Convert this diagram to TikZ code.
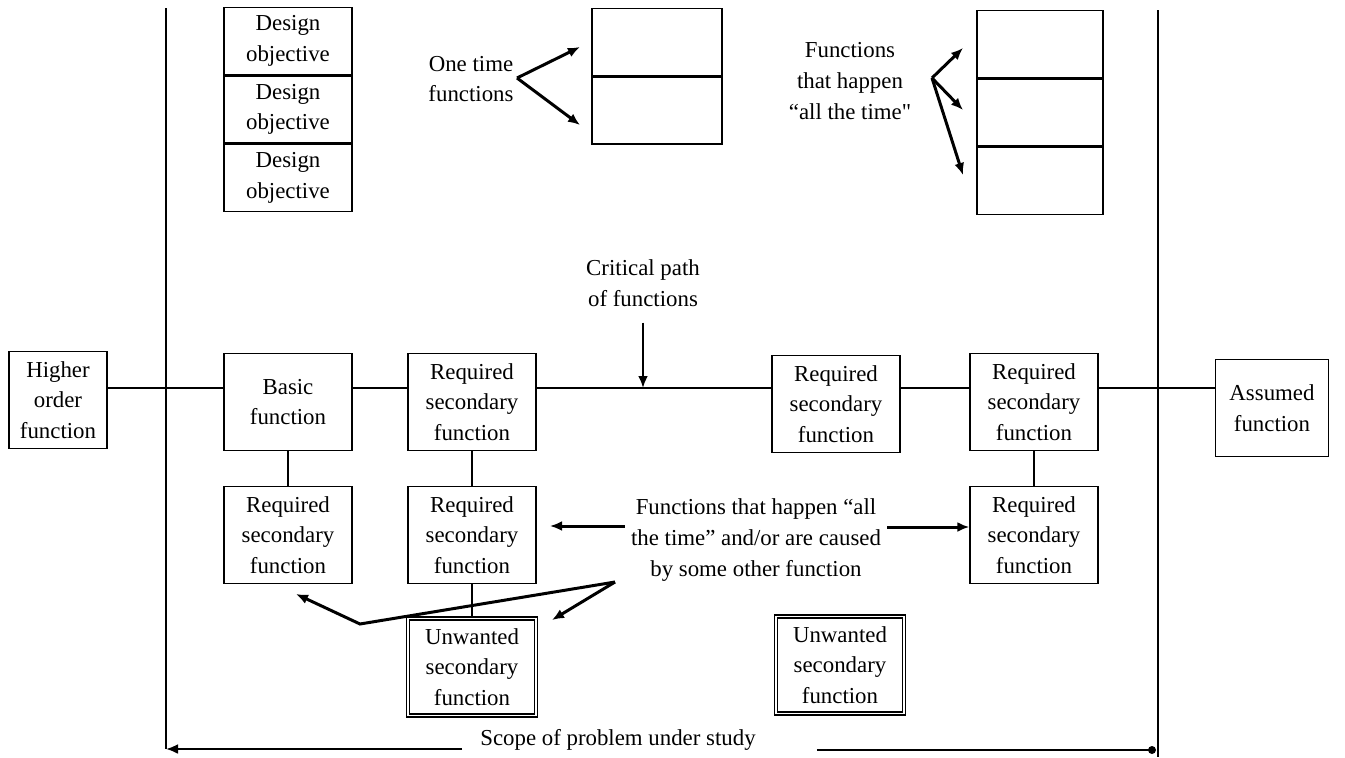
\documentclass[tikz,border=0pt]{standalone}
\usepackage{fontspec}
\setmainfont{Liberation Serif}
\usetikzlibrary{arrows, arrows.meta, calc, positioning}
\newcommand{\straightquote}{{\addfontfeature{Ligatures=TeXOff}"}}

\begin{document}
\begin{tikzpicture}[x=0.2mm,y=-0.2mm,>={Latex[length=2.4mm,width=2mm]},
	every node/.style={font=\fontsize{13}{17.5}\selectfont, align=center},
	func/.style={draw, line width=0.8pt, minimum width=25.6mm, minimum height=19.4mm, inner sep=1pt},
	cell/.style={draw, line width=0.8pt, minimum width=25.6mm, minimum height=13.4mm, inner sep=0pt},
	unwanted/.style={func, double, double distance=1.1pt, line width=0.6pt},
	pointer/.style={->, line width=1.7pt},
	link/.style={line width=0.8pt}]
	\useasboundingbox (0,0) rectangle (1345,757);

	% limits of the study
	\coordinate (scopeTL) at (166,8);
	\coordinate (scopeBL) at (166,749);
	\coordinate (scopeTR) at (1158,10);
	\coordinate (scopeBR) at (1158,757);
	\coordinate (scopeEnd) at (1152,750);
	\draw[link] (scopeTL) -- (scopeBL);
	\draw[link] (scopeTR) -- (scopeBR);

	% upper row
	\node[cell] (do1) at (288,41) {Design\\objective};
	\node[cell, below=0pt of do1] (do2) {Design\\objective};
	\node[cell, below=0pt of do2] (do3) {Design\\objective};

	\node (once) at (471,79) {One time\\functions};
	\node[cell, minimum width=26mm] (ot1) at (657,42) {};
	\node[cell, minimum width=26mm, below=0pt of ot1] (ot2) {};
	\coordinate (otv) at (517,78);
	\draw[pointer] (otv) -- (580,47);
	\draw[pointer] (otv) -- (580,125);

	\node (always) at (850,81) {Functions\\that happen\\``all the time\straightquote};
	\node[cell, minimum width=25.2mm] (at1) at (1040,44) {};
	\node[cell, minimum width=25.2mm, below=0pt of at1] (at2) {};
	\node[cell, minimum width=25.2mm, below=0pt of at2] (at3) {};
	\coordinate (atv) at (932,78);
	\draw[pointer] (atv) -- (963,48);
	\draw[pointer] (atv) -- (963,110);
	\draw[pointer] (atv) -- (963,175);

	% critical path
	\coordinate (spine) at (0,388);
	\node[func, minimum width=19.6mm] (hof) at (58,400) {Higher\\order\\function};
	\node[func] (basic) at (288,402) {Basic\\function};
	\node[func] (req1) at (472,402) {Required\\secondary\\function};
	\node[func] (req2) at (836,404) {Required\\secondary\\function};
	\node[func] (req3) at (1034,402) {Required\\secondary\\function};
	\node[func, minimum width=22.6mm] (assumed) at (1272,408) {Assumed\\function};
	\draw[link] (hof.east |- spine) -- (basic.west |- spine);
	\draw[link] (basic.east |- spine) -- (req1.west |- spine);
	\draw[link] (req1.east |- spine) -- (req2.west |- spine);
	\draw[link] (req2.east |- spine) -- (req3.west |- spine);
	\draw[link] (req3.east |- spine) -- (assumed.west |- spine);

	\node (crit) at (643,283) {Critical path\\of functions};
	\draw[pointer] ([yshift=-2mm]crit.south) -- (crit.south |- spine);

	% lower rows
	\node[func] (rs1) at (288,535) {Required\\secondary\\function};
	\node[func] (rs2) at (472,535) {Required\\secondary\\function};
	\node[func] (rs3) at (1034,535) {Required\\secondary\\function};
	\node[unwanted] (uw1) at (472,667) {Unwanted\\secondary\\function};
	\node[unwanted] (uw2) at (840,665) {Unwanted\\secondary\\function};
	\draw[link] (basic) -- (rs1);
	\draw[link] (req1) -- (rs2);
	\draw[link] (rs2) -- (uw1);
	\draw[link] (req3) -- (rs3);

	\node (caused) at (756,540) {Functions that happen ``all\\the time'' and/or are caused\\by some other function};
	\draw[pointer] (caused.west |- 0,526) -- (550,526);
	\draw[pointer] (caused.east |- 0,527) -- (rs3.west |- 0,527);
	\coordinate (cv) at (615,582);
	\draw[pointer] (cv) -- (360,624) -- (296,594);
	\draw[pointer] (cv) -- (552,620);

	% scope
	\node (scope) at (618,740) {Scope of problem under study};
	\draw[->, line width=1.3pt] ([xshift=-2.4mm]scope.west |- scopeBL) -- (scopeBL);
	\draw[line width=1.3pt] ([xshift=11mm]scope.east |- scopeEnd) -- (scopeEnd);
	\fill (scopeEnd) circle[radius=0.8mm];
\end{tikzpicture}
\end{document}
